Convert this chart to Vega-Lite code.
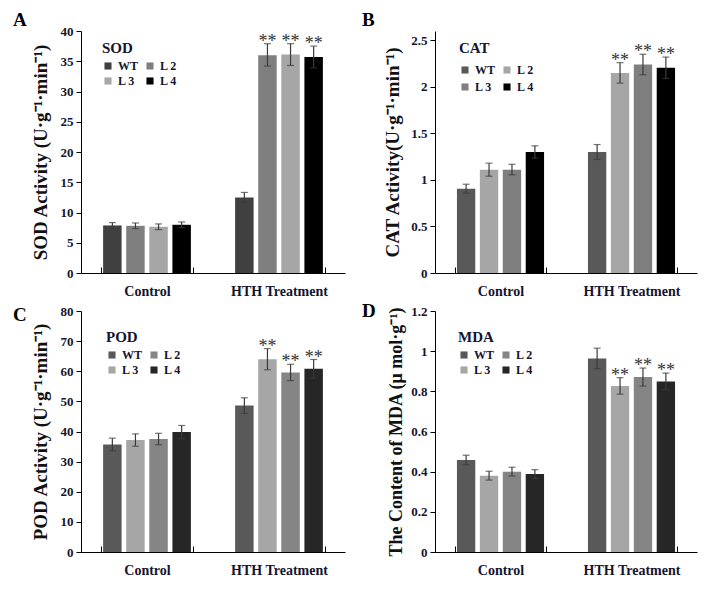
{
  "$schema": "https://vega.github.io/schema/vega-lite/v6.json",
  "padding": {"left": 13, "top": 11, "right": 10, "bottom": 5},
  "config": {
    "font": "Liberation Serif",
    "view": {"stroke": null},
    "axis": {"grid": false, "labelFont": "Liberation Serif", "labelFontWeight": "bold", "titleFont": "Liberation Serif", "titleFontWeight": "bold", "domainColor": "#000", "tickColor": "#000", "labelColor": "#141430", "titleColor": "#111111", "labelOverlap": false},
    "legend": {"orient": "none", "direction": "horizontal", "columns": 2, "symbolType": "square", "symbolSize": 50, "symbolStrokeWidth": 0, "labelFont": "Liberation Serif", "labelFontSize": 12, "labelFontWeight": "bold", "labelColor": "#141430", "titleFont": "Liberation Serif", "titleFontSize": 15, "titleFontWeight": "bold", "titleColor": "#141430", "rowPadding": 3, "columnPadding": 5, "titlePadding": 4, "labelOffset": 4, "padding": 0},
    "title": {"anchor": "start", "frame": "group", "font": "Liberation Serif", "fontSize": 19, "fontWeight": "bold", "color": "#000", "offset": 0, "baseline": "alphabetic"}
  },
  "columns": 2,
  "spacing": {"row": 38, "column": 90},
  "bounds": "flush",
  "resolve": {"scale": {"color": "independent", "y": "independent", "x": "independent", "xOffset": "independent"}, "legend": {"color": "independent"}},
  "concat": [
    {
      "width": 264, "height": 242,
      "title": {"text": "A", "dx": -68, "dy": 9},
      "data": {"values": [
        {"group": "Control", "line": "WT", "mean": 7.86, "lo": 7.39, "hi": 8.33, "sig": ""},
        {"group": "Control", "line": "L 2", "mean": 7.80, "lo": 7.33, "hi": 8.27, "sig": ""},
        {"group": "Control", "line": "L 3", "mean": 7.64, "lo": 7.17, "hi": 8.11, "sig": ""},
        {"group": "Control", "line": "L 4", "mean": 7.97, "lo": 7.50, "hi": 8.44, "sig": ""},
        {"group": "HTH Treatment", "line": "WT", "mean": 12.5, "lo": 11.68, "hi": 13.32, "sig": ""},
        {"group": "HTH Treatment", "line": "L 2", "mean": 36.0, "lo": 34.2, "hi": 37.9, "sig": "**"},
        {"group": "HTH Treatment", "line": "L 3", "mean": 36.1, "lo": 34.3, "hi": 37.9, "sig": "**"},
        {"group": "HTH Treatment", "line": "L 4", "mean": 35.7, "lo": 33.9, "hi": 37.5, "sig": "**"}
      ]},
      "encoding": {
        "x": {"field": "group", "type": "nominal", "sort": ["Control", "HTH Treatment"], "scale": {"paddingInner": 0.3, "paddingOuter": 0.15}, "axis": {"title": null, "labelAngle": 0, "labelFontSize": 14, "tickBand": "extent", "tickSize": -6, "labelPadding": 17}},
        "xOffset": {"field": "line", "type": "nominal", "sort": ["WT", "L 2", "L 3", "L 4"], "scale": {"paddingInner": 0.2, "paddingOuter": 0.1}}
      },
      "layer": [
        {"mark": {"type": "bar"}, "encoding": {
          "y": {"field": "mean", "type": "quantitative", "scale": {"domain": [0, 40]}, "axis": {"title": "SOD Activity (U·g⁻¹·min⁻¹)", "values": [0, 5, 10, 15, 20, 25, 30, 35, 40], "tickSize": 5, "labelPadding": 3, "labelFontSize": 13, "titleFontSize": 19, "titlePadding": 10}},
          "color": {"field": "line", "type": "nominal", "title": "SOD", "scale": {"domain": ["WT", "L 2", "L 3", "L 4"], "range": ["#404040", "#7f7f7f", "#a6a6a6", "#000000"]}, "legend": {"legendX": 21, "legendY": 10, "rowPadding": 3}}
        }},
        {"mark": {"type": "rule", "color": "#3a3a3a", "strokeWidth": 1.2}, "encoding": {"y": {"field": "lo", "type": "quantitative", "axis": {"title": "SOD Activity (U·g⁻¹·min⁻¹)", "values": [0, 5, 10, 15, 20, 25, 30, 35, 40], "tickSize": 5, "labelPadding": 3, "labelFontSize": 13, "titleFontSize": 19, "titlePadding": 10}}, "y2": {"field": "hi"}}},
        {"mark": {"type": "tick", "color": "#3a3a3a", "size": 7, "thickness": 1.2}, "encoding": {"y": {"field": "lo", "type": "quantitative", "axis": {"title": "SOD Activity (U·g⁻¹·min⁻¹)", "values": [0, 5, 10, 15, 20, 25, 30, 35, 40], "tickSize": 5, "labelPadding": 3, "labelFontSize": 13, "titleFontSize": 19, "titlePadding": 10}}}},
        {"mark": {"type": "tick", "color": "#3a3a3a", "size": 7, "thickness": 1.2}, "encoding": {"y": {"field": "hi", "type": "quantitative", "axis": {"title": "SOD Activity (U·g⁻¹·min⁻¹)", "values": [0, 5, 10, 15, 20, 25, 30, 35, 40], "tickSize": 5, "labelPadding": 3, "labelFontSize": 13, "titleFontSize": 19, "titlePadding": 10}}}},
        {"mark": {"type": "text", "fontSize": 18, "baseline": "alphabetic", "dy": 3, "color": "#333"}, "encoding": {"y": {"field": "hi", "type": "quantitative", "axis": {"title": "SOD Activity (U·g⁻¹·min⁻¹)", "values": [0, 5, 10, 15, 20, 25, 30, 35, 40], "tickSize": 5, "labelPadding": 3, "labelFontSize": 13, "titleFontSize": 19, "titlePadding": 10}}, "text": {"field": "sig"}}}
      ]
    },
    {
      "width": 262, "height": 242,
      "title": {"text": "B", "dx": -73, "dy": 3},
      "data": {"values": [
        {"group": "Control", "line": "WT", "mean": 0.906, "lo": 0.858, "hi": 0.954, "sig": ""},
        {"group": "Control", "line": "L 2", "mean": 1.11, "lo": 1.04, "hi": 1.18, "sig": ""},
        {"group": "Control", "line": "L 3", "mean": 1.11, "lo": 1.055, "hi": 1.168, "sig": ""},
        {"group": "Control", "line": "L 4", "mean": 1.30, "lo": 1.234, "hi": 1.366, "sig": ""},
        {"group": "HTH Treatment", "line": "WT", "mean": 1.30, "lo": 1.22, "hi": 1.38, "sig": ""},
        {"group": "HTH Treatment", "line": "L 2", "mean": 2.15, "lo": 2.04, "hi": 2.26, "sig": "**"},
        {"group": "HTH Treatment", "line": "L 3", "mean": 2.24, "lo": 2.13, "hi": 2.35, "sig": "**"},
        {"group": "HTH Treatment", "line": "L 4", "mean": 2.205, "lo": 2.09, "hi": 2.32, "sig": "**"}
      ]},
      "encoding": {
        "x": {"field": "group", "type": "nominal", "sort": ["Control", "HTH Treatment"], "scale": {"paddingInner": 0.3, "paddingOuter": 0.15}, "axis": {"title": null, "labelAngle": 0, "labelFontSize": 14, "tickBand": "extent", "tickSize": -6, "labelPadding": 17}},
        "xOffset": {"field": "line", "type": "nominal", "sort": ["WT", "L 2", "L 3", "L 4"], "scale": {"paddingInner": 0.2, "paddingOuter": 0.1}}
      },
      "layer": [
        {"mark": {"type": "bar"}, "encoding": {
          "y": {"field": "mean", "type": "quantitative", "scale": {"domain": [0, 2.5]}, "axis": {"title": "CAT Activity(U·g⁻¹·min⁻¹)", "values": [0, 0.5, 1, 1.5, 2, 2.5], "format": "~g", "tickSize": 5, "labelPadding": 3, "labelFontSize": 13, "titleFontSize": 19, "titlePadding": 8}},
          "color": {"field": "line", "type": "nominal", "title": "CAT", "scale": {"domain": ["WT", "L 2", "L 3", "L 4"], "range": ["#595959", "#a6a6a6", "#7f7f7f", "#000000"]}, "legend": {"legendX": 24, "legendY": 10, "rowPadding": 5, "titlePadding": 8}}
        }},
        {"mark": {"type": "rule", "color": "#3a3a3a", "strokeWidth": 1.2}, "encoding": {"y": {"field": "lo", "type": "quantitative", "axis": {"title": "CAT Activity(U·g⁻¹·min⁻¹)", "values": [0, 0.5, 1, 1.5, 2, 2.5], "format": "~g", "tickSize": 5, "labelPadding": 3, "labelFontSize": 13, "titleFontSize": 19, "titlePadding": 8}}, "y2": {"field": "hi"}}},
        {"mark": {"type": "tick", "color": "#3a3a3a", "size": 7, "thickness": 1.2}, "encoding": {"y": {"field": "lo", "type": "quantitative", "axis": {"title": "CAT Activity(U·g⁻¹·min⁻¹)", "values": [0, 0.5, 1, 1.5, 2, 2.5], "format": "~g", "tickSize": 5, "labelPadding": 3, "labelFontSize": 13, "titleFontSize": 19, "titlePadding": 8}}}},
        {"mark": {"type": "tick", "color": "#3a3a3a", "size": 7, "thickness": 1.2}, "encoding": {"y": {"field": "hi", "type": "quantitative", "axis": {"title": "CAT Activity(U·g⁻¹·min⁻¹)", "values": [0, 0.5, 1, 1.5, 2, 2.5], "format": "~g", "tickSize": 5, "labelPadding": 3, "labelFontSize": 13, "titleFontSize": 19, "titlePadding": 8}}}},
        {"mark": {"type": "text", "fontSize": 18, "baseline": "alphabetic", "dy": 3, "color": "#333"}, "encoding": {"y": {"field": "hi", "type": "quantitative", "axis": {"title": "CAT Activity(U·g⁻¹·min⁻¹)", "values": [0, 0.5, 1, 1.5, 2, 2.5], "format": "~g", "tickSize": 5, "labelPadding": 3, "labelFontSize": 13, "titleFontSize": 19, "titlePadding": 8}}, "text": {"field": "sig"}}}
      ]
    },
    {
      "width": 264, "height": 241,
      "title": {"text": "C", "dx": -68, "dy": 24},
      "data": {"values": [
        {"group": "Control", "line": "WT", "mean": 35.7, "lo": 33.6, "hi": 37.8, "sig": ""},
        {"group": "Control", "line": "L 3", "mean": 37.2, "lo": 35.1, "hi": 39.2, "sig": ""},
        {"group": "Control", "line": "L 2", "mean": 37.5, "lo": 35.6, "hi": 39.4, "sig": ""},
        {"group": "Control", "line": "L 4", "mean": 39.8, "lo": 37.6, "hi": 42.0, "sig": ""},
        {"group": "HTH Treatment", "line": "WT", "mean": 48.6, "lo": 46.0, "hi": 51.2, "sig": ""},
        {"group": "HTH Treatment", "line": "L 3", "mean": 64.0, "lo": 60.5, "hi": 67.5, "sig": "**"},
        {"group": "HTH Treatment", "line": "L 2", "mean": 59.6, "lo": 56.9, "hi": 62.3, "sig": "**"},
        {"group": "HTH Treatment", "line": "L 4", "mean": 60.8, "lo": 57.7, "hi": 63.9, "sig": "**"}
      ]},
      "encoding": {
        "x": {"field": "group", "type": "nominal", "sort": ["Control", "HTH Treatment"], "scale": {"paddingInner": 0.3, "paddingOuter": 0.15}, "axis": {"title": null, "labelAngle": 0, "labelFontSize": 14, "tickBand": "extent", "tickSize": -6, "labelPadding": 17}},
        "xOffset": {"field": "line", "type": "nominal", "sort": ["WT", "L 3", "L 2", "L 4"], "scale": {"paddingInner": 0.2, "paddingOuter": 0.1}}
      },
      "layer": [
        {"mark": {"type": "bar"}, "encoding": {
          "y": {"field": "mean", "type": "quantitative", "scale": {"domain": [0, 80]}, "axis": {"title": "POD Activity (U·g⁻¹·min⁻¹)", "values": [0, 10, 20, 30, 40, 50, 60, 70, 80], "tickSize": 5, "labelPadding": 3, "labelFontSize": 13, "titleFontSize": 19, "titlePadding": 10}},
          "color": {"field": "line", "type": "nominal", "title": "POD", "scale": {"domain": ["WT", "L 2", "L 3", "L 4"], "range": ["#595959", "#858585", "#a6a6a6", "#262626"]}, "legend": {"legendX": 25, "legendY": 19, "rowPadding": 3}}
        }},
        {"mark": {"type": "rule", "color": "#3a3a3a", "strokeWidth": 1.2}, "encoding": {"y": {"field": "lo", "type": "quantitative", "axis": {"title": "POD Activity (U·g⁻¹·min⁻¹)", "values": [0, 10, 20, 30, 40, 50, 60, 70, 80], "tickSize": 5, "labelPadding": 3, "labelFontSize": 13, "titleFontSize": 19, "titlePadding": 10}}, "y2": {"field": "hi"}}},
        {"mark": {"type": "tick", "color": "#3a3a3a", "size": 7, "thickness": 1.2}, "encoding": {"y": {"field": "lo", "type": "quantitative", "axis": {"title": "POD Activity (U·g⁻¹·min⁻¹)", "values": [0, 10, 20, 30, 40, 50, 60, 70, 80], "tickSize": 5, "labelPadding": 3, "labelFontSize": 13, "titleFontSize": 19, "titlePadding": 10}}}},
        {"mark": {"type": "tick", "color": "#3a3a3a", "size": 7, "thickness": 1.2}, "encoding": {"y": {"field": "hi", "type": "quantitative", "axis": {"title": "POD Activity (U·g⁻¹·min⁻¹)", "values": [0, 10, 20, 30, 40, 50, 60, 70, 80], "tickSize": 5, "labelPadding": 3, "labelFontSize": 13, "titleFontSize": 19, "titlePadding": 10}}}},
        {"mark": {"type": "text", "fontSize": 18, "baseline": "alphabetic", "dy": 3, "color": "#333"}, "encoding": {"y": {"field": "hi", "type": "quantitative", "axis": {"title": "POD Activity (U·g⁻¹·min⁻¹)", "values": [0, 10, 20, 30, 40, 50, 60, 70, 80], "tickSize": 5, "labelPadding": 3, "labelFontSize": 13, "titleFontSize": 19, "titlePadding": 10}}, "text": {"field": "sig"}}}
      ]
    },
    {
      "width": 262, "height": 241,
      "title": {"text": "D", "dx": -73, "dy": 20},
      "data": {"values": [
        {"group": "Control", "line": "WT", "mean": 0.458, "lo": 0.434, "hi": 0.482, "sig": ""},
        {"group": "Control", "line": "L 3", "mean": 0.38, "lo": 0.358, "hi": 0.402, "sig": ""},
        {"group": "Control", "line": "L 2", "mean": 0.40, "lo": 0.378, "hi": 0.422, "sig": ""},
        {"group": "Control", "line": "L 4", "mean": 0.388, "lo": 0.366, "hi": 0.41, "sig": ""},
        {"group": "HTH Treatment", "line": "WT", "mean": 0.964, "lo": 0.913, "hi": 1.015, "sig": ""},
        {"group": "HTH Treatment", "line": "L 3", "mean": 0.827, "lo": 0.786, "hi": 0.868, "sig": "**"},
        {"group": "HTH Treatment", "line": "L 2", "mean": 0.871, "lo": 0.826, "hi": 0.916, "sig": "**"},
        {"group": "HTH Treatment", "line": "L 4", "mean": 0.849, "lo": 0.807, "hi": 0.891, "sig": "**"}
      ]},
      "encoding": {
        "x": {"field": "group", "type": "nominal", "sort": ["Control", "HTH Treatment"], "scale": {"paddingInner": 0.3, "paddingOuter": 0.15}, "axis": {"title": null, "labelAngle": 0, "labelFontSize": 14, "tickBand": "extent", "tickSize": -6, "labelPadding": 17}},
        "xOffset": {"field": "line", "type": "nominal", "sort": ["WT", "L 3", "L 2", "L 4"], "scale": {"paddingInner": 0.2, "paddingOuter": 0.1}}
      },
      "layer": [
        {"mark": {"type": "bar"}, "encoding": {
          "y": {"field": "mean", "type": "quantitative", "scale": {"domain": [0, 1.2]}, "axis": {"title": "The Content of MDA (μ mol·g⁻¹)", "values": [0, 0.2, 0.4, 0.6, 0.8, 1, 1.2], "format": "~g", "tickSize": 5, "labelPadding": 3, "labelFontSize": 13, "titleFontSize": 18, "titlePadding": 5}},
          "color": {"field": "line", "type": "nominal", "title": "MDA", "scale": {"domain": ["WT", "L 2", "L 3", "L 4"], "range": ["#595959", "#858585", "#a6a6a6", "#262626"]}, "legend": {"legendX": 23, "legendY": 19, "rowPadding": 3}}
        }},
        {"mark": {"type": "rule", "color": "#3a3a3a", "strokeWidth": 1.2}, "encoding": {"y": {"field": "lo", "type": "quantitative", "axis": {"title": "The Content of MDA (μ mol·g⁻¹)", "values": [0, 0.2, 0.4, 0.6, 0.8, 1, 1.2], "format": "~g", "tickSize": 5, "labelPadding": 3, "labelFontSize": 13, "titleFontSize": 18, "titlePadding": 5}}, "y2": {"field": "hi"}}},
        {"mark": {"type": "tick", "color": "#3a3a3a", "size": 7, "thickness": 1.2}, "encoding": {"y": {"field": "lo", "type": "quantitative", "axis": {"title": "The Content of MDA (μ mol·g⁻¹)", "values": [0, 0.2, 0.4, 0.6, 0.8, 1, 1.2], "format": "~g", "tickSize": 5, "labelPadding": 3, "labelFontSize": 13, "titleFontSize": 18, "titlePadding": 5}}}},
        {"mark": {"type": "tick", "color": "#3a3a3a", "size": 7, "thickness": 1.2}, "encoding": {"y": {"field": "hi", "type": "quantitative", "axis": {"title": "The Content of MDA (μ mol·g⁻¹)", "values": [0, 0.2, 0.4, 0.6, 0.8, 1, 1.2], "format": "~g", "tickSize": 5, "labelPadding": 3, "labelFontSize": 13, "titleFontSize": 18, "titlePadding": 5}}}},
        {"mark": {"type": "text", "fontSize": 18, "baseline": "alphabetic", "dy": 3, "color": "#333"}, "encoding": {"y": {"field": "hi", "type": "quantitative", "axis": {"title": "The Content of MDA (μ mol·g⁻¹)", "values": [0, 0.2, 0.4, 0.6, 0.8, 1, 1.2], "format": "~g", "tickSize": 5, "labelPadding": 3, "labelFontSize": 13, "titleFontSize": 18, "titlePadding": 5}}, "text": {"field": "sig"}}}
      ]
    }
  ]
}
